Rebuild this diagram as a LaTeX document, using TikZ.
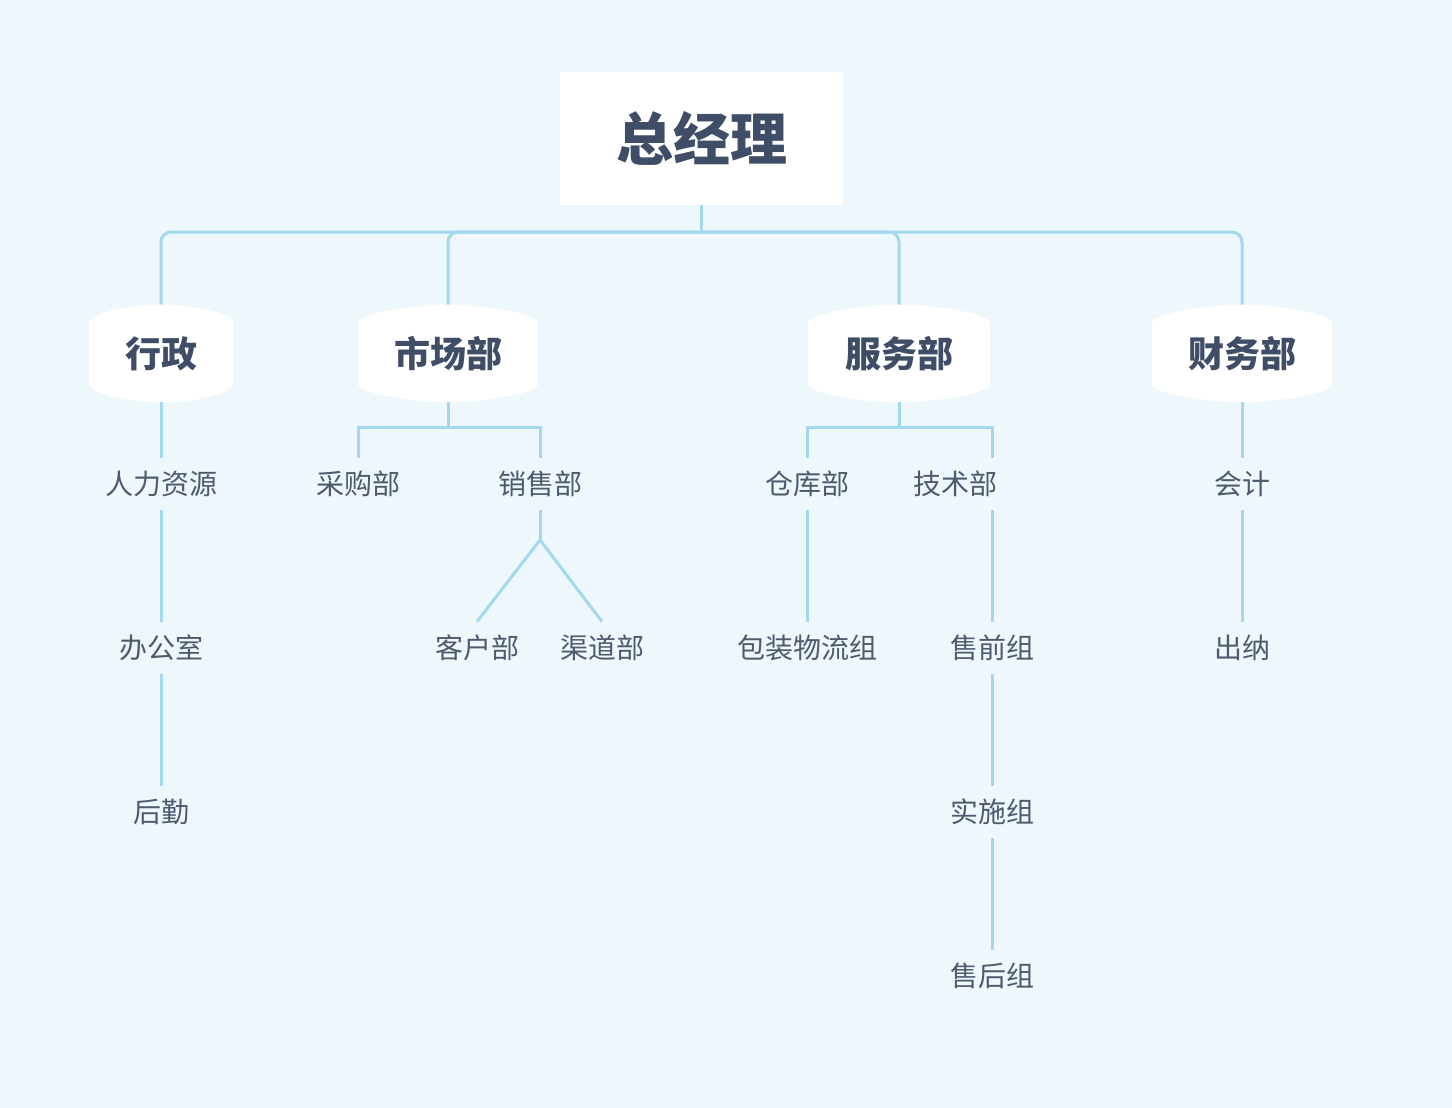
\documentclass[tikz,border=0pt]{standalone}
\usepackage{fontspec}
\setmainfont{Noto Sans CJK SC}
\usetikzlibrary{backgrounds}

\definecolor{bgblue}{HTML}{EEF7FB}
\definecolor{linkblue}{HTML}{A3D9EE}
\definecolor{ink}{HTML}{3F4D66}
\definecolor{inklight}{HTML}{4E5A70}

\tikzset{
  link/.style={draw=linkblue, line width=1.5pt},
  head/.style={fill=white, minimum width=141.5pt, minimum height=66.5pt, inner sep=0pt,
    text=ink, font=\bfseries\fontsize{28.5}{32}\selectfont},
  dept/.style={minimum width=#1, minimum height=48.5pt, inner sep=0pt,
    text=ink, font=\bfseries\fontsize{18}{22}\selectfont},
  unit/.style={minimum height=26pt, inner sep=0pt,
    text=inklight, font=\fontsize{14}{17}\selectfont}
}

\begin{document}
\begin{tikzpicture}[x=0.5pt, y=-0.5pt]
        % top
        \node[head] (zjl) at (701.5,138.5) {总经理};

        % departments
        \node[dept=71.5pt] (xz) at (161,353.5) {行政};
        \node[dept=89.5pt] (scb) at (448,353.5) {市场部};
        \node[dept=90.5pt] (fwb) at (899,353.5) {服务部};
        \node[dept=90pt] (cwb) at (1242,353.5) {财务部};

        % units
        \node[unit] (rlzy) at (161,484) {人力资源};
        \node[unit] (bgs) at (161,648) {办公室};
        \node[unit] (hq) at (161,812) {后勤};

        \node[unit] (cgb) at (358,484) {采购部};
        \node[unit] (xsb) at (540,484) {销售部};
        \node[unit] (khb) at (477,648) {客户部};
        \node[unit] (qdb) at (602,648) {渠道部};

        \node[unit] (ckb) at (807,484) {仓库部};
        \node[unit] (jsb) at (955,484) {技术部};
        \node[unit] (bzwl) at (807,648) {包装物流组};
        \node[unit] (sqz) at (992,648) {售前组};
        \node[unit] (ssz) at (992,812) {实施组};
        \node[unit] (shz) at (992,976) {售后组};

        \node[unit] (kj) at (1242,484) {会计};
        \node[unit] (cn) at (1242,648) {出纳};

        \coordinate (bar) at (701.5,232);
        \coordinate (scbar) at (448,427);
        \coordinate (fwbar) at (899,427);
        \coordinate (fork) at (540,540);

        % background and department shapes
        \begin{scope}[on background layer]
            \fill[bgblue] (0,0) rectangle (1452,1108);
            \foreach \n in {xz,scb,fwb,cwb}
                \fill[white] ([yshift=-9pt]\n.north west)
                    .. controls ([xshift=1pt,yshift=-4pt]\n.north west) and ([xshift=-16pt]\n.north) .. (\n.north)
                    .. controls ([xshift=16pt]\n.north) and ([xshift=-1pt,yshift=-4pt]\n.north east) .. ([yshift=-9pt]\n.north east)
                    -- ([yshift=9pt]\n.south east)
                    .. controls ([xshift=-1pt,yshift=4pt]\n.south east) and ([xshift=16pt]\n.south) .. (\n.south)
                    .. controls ([xshift=-16pt]\n.south) and ([xshift=1pt,yshift=4pt]\n.south west) .. ([yshift=9pt]\n.south west)
                    -- cycle;
        \end{scope}

        % top level links
        \draw[link] (zjl.south) -- (bar);
        \foreach \n in {xz,scb,fwb,cwb}
            \draw[link, rounded corners=5pt] (bar) -| (\n.north);

        % 行政
        \draw[link] (xz) -- (rlzy);
        \draw[link] (rlzy) -- (bgs);
        \draw[link] (bgs) -- (hq);

        % 市场部
        \draw[link] (scb.south) -- (scbar);
        \draw[link] (scbar) -| (cgb.north);
        \draw[link] (scbar) -| (xsb.north);
        \draw[link] (xsb.south) -- (fork);
        \draw[link] (fork) -- (khb.north);
        \draw[link] (fork) -- (qdb.north);

        % 服务部
        \draw[link] (fwb.south) -- (fwbar);
        \draw[link] (fwbar) -| (ckb.north);
        \draw[link] (fwbar) -| (sqz |- jsb.north);
        \draw[link] (ckb) -- (bzwl);
        \draw[link] (sqz |- jsb.south) -- (sqz.north);
        \draw[link] (sqz) -- (ssz);
        \draw[link] (ssz) -- (shz);

        % 财务部
        \draw[link] (cwb) -- (kj);
        \draw[link] (kj) -- (cn);
\end{tikzpicture}
\end{document}
